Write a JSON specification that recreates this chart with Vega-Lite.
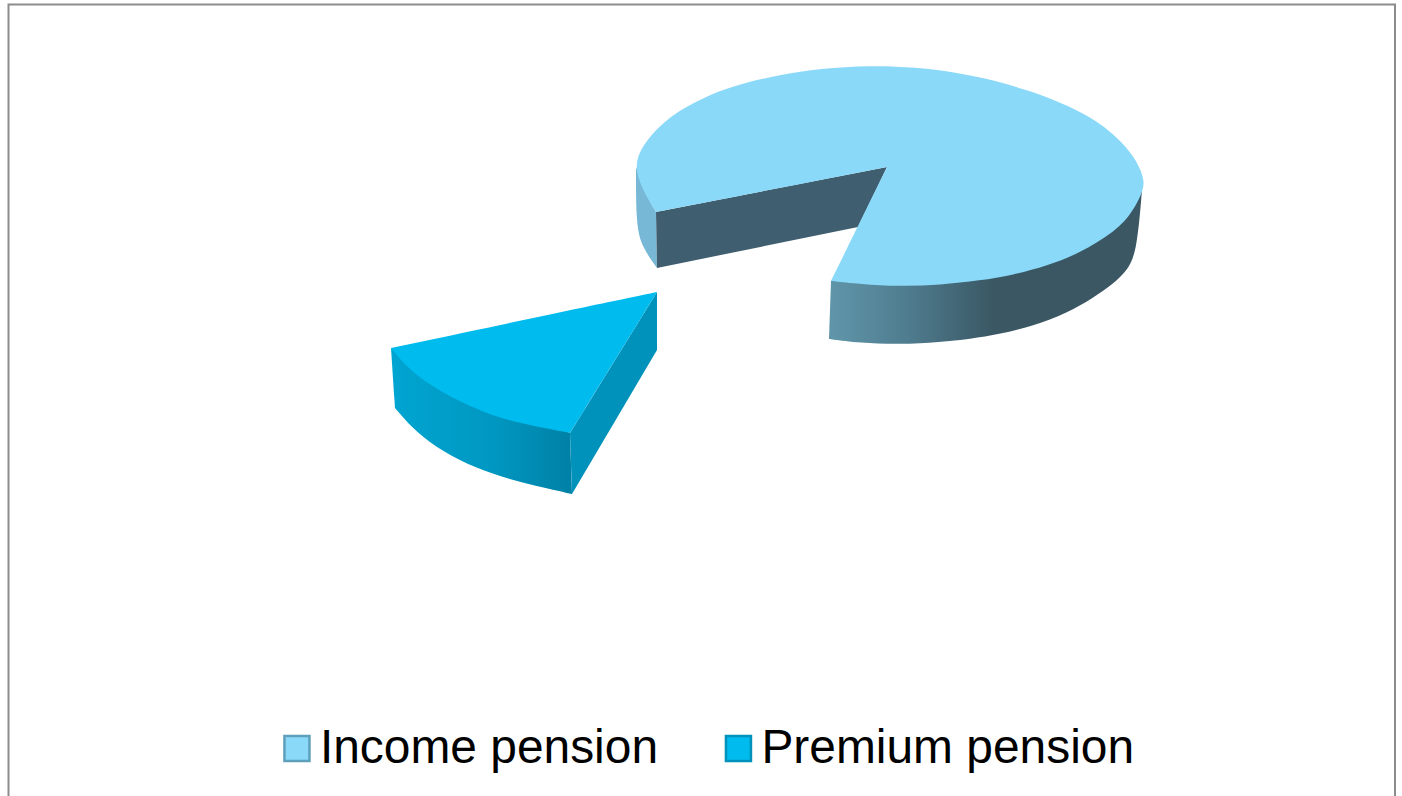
{
  "$schema": "https://vega.github.io/schema/vega-lite/v6.json",
  "width": 1402,
  "height": 796,
  "padding": 0,
  "autosize": {"type": "none"},
  "background": "white",
  "config": {"view": {"stroke": null}},
  "datasets": {
    "faces": [
      {"face": "frame", "i": 0, "x": 8.5, "y": 796},
      {"face": "frame", "i": 1, "x": 8.5, "y": 4.5},
      {"face": "frame", "i": 2, "x": 1395, "y": 4.5},
      {"face": "frame", "i": 3, "x": 1395, "y": 796},

      {"face": "incomeOuterLeft", "i": 0, "x": 636, "y": 167},
      {"face": "incomeOuterLeft", "i": 1, "x": 636, "y": 167},
      {"face": "incomeOuterLeft", "i": 2, "x": 636, "y": 167},
      {"face": "incomeOuterLeft", "i": 3, "x": 636, "y": 225},
      {"face": "incomeOuterLeft", "i": 4, "x": 642, "y": 247},
      {"face": "incomeOuterLeft", "i": 5, "x": 657, "y": 268},
      {"face": "incomeOuterLeft", "i": 6, "x": 657, "y": 268},
      {"face": "incomeOuterLeft", "i": 7, "x": 657, "y": 268},
      {"face": "incomeOuterLeft", "i": 8, "x": 656, "y": 212},
      {"face": "incomeOuterLeft", "i": 9, "x": 656, "y": 212},
      {"face": "incomeOuterLeft", "i": 10, "x": 656, "y": 212},
      {"face": "incomeOuterLeft", "i": 11, "x": 645, "y": 193},
      {"face": "incomeOuterLeft", "i": 12, "x": 636, "y": 167},

      {"face": "incomeCut", "i": 0, "x": 656, "y": 212},
      {"face": "incomeCut", "i": 1, "x": 887, "y": 167},
      {"face": "incomeCut", "i": 2, "x": 858, "y": 227},
      {"face": "incomeCut", "i": 3, "x": 657, "y": 268},
      {"face": "incomeCut", "i": 4, "x": 656, "y": 212},

      {"face": "incomeOuterRight", "i": 0, "x": 831, "y": 281},
      {"face": "incomeOuterRight", "i": 1, "x": 1142, "y": 190},
      {"face": "incomeOuterRight", "i": 2, "x": 1142, "y": 190},
      {"face": "incomeOuterRight", "i": 3, "x": 1142, "y": 190},
      {"face": "incomeOuterRight", "i": 4, "x": 1137, "y": 250},
      {"face": "incomeOuterRight", "i": 5, "x": 1128, "y": 270},
      {"face": "incomeOuterRight", "i": 6, "x": 1113, "y": 284},
      {"face": "incomeOuterRight", "i": 7, "x": 1093, "y": 298},
      {"face": "incomeOuterRight", "i": 8, "x": 1067, "y": 313},
      {"face": "incomeOuterRight", "i": 9, "x": 1033, "y": 326},
      {"face": "incomeOuterRight", "i": 10, "x": 1000, "y": 334},
      {"face": "incomeOuterRight", "i": 11, "x": 970, "y": 339},
      {"face": "incomeOuterRight", "i": 12, "x": 940, "y": 342},
      {"face": "incomeOuterRight", "i": 13, "x": 900, "y": 344.5},
      {"face": "incomeOuterRight", "i": 14, "x": 860, "y": 343},
      {"face": "incomeOuterRight", "i": 15, "x": 829, "y": 339},
      {"face": "incomeOuterRight", "i": 16, "x": 829, "y": 339},
      {"face": "incomeOuterRight", "i": 17, "x": 829, "y": 339},
      {"face": "incomeOuterRight", "i": 18, "x": 831, "y": 281},

      {"face": "premiumOuter", "i": 0, "x": 391, "y": 348},
      {"face": "premiumOuter", "i": 1, "x": 570, "y": 433},
      {"face": "premiumOuter", "i": 2, "x": 570, "y": 433},
      {"face": "premiumOuter", "i": 3, "x": 570, "y": 433},
      {"face": "premiumOuter", "i": 4, "x": 572, "y": 494},
      {"face": "premiumOuter", "i": 5, "x": 572, "y": 494},
      {"face": "premiumOuter", "i": 6, "x": 572, "y": 494},
      {"face": "premiumOuter", "i": 7, "x": 535, "y": 486},
      {"face": "premiumOuter", "i": 8, "x": 502, "y": 477},
      {"face": "premiumOuter", "i": 9, "x": 468, "y": 465},
      {"face": "premiumOuter", "i": 10, "x": 435, "y": 447},
      {"face": "premiumOuter", "i": 11, "x": 412, "y": 428},
      {"face": "premiumOuter", "i": 12, "x": 395, "y": 408},
      {"face": "premiumOuter", "i": 13, "x": 395, "y": 408},
      {"face": "premiumOuter", "i": 14, "x": 395, "y": 408},
      {"face": "premiumOuter", "i": 15, "x": 391, "y": 348},

      {"face": "premiumCut", "i": 0, "x": 570, "y": 433},
      {"face": "premiumCut", "i": 1, "x": 657, "y": 292},
      {"face": "premiumCut", "i": 2, "x": 657, "y": 350},
      {"face": "premiumCut", "i": 3, "x": 572, "y": 494},
      {"face": "premiumCut", "i": 4, "x": 570, "y": 433},

      {"face": "top", "pension": "Income pension", "i": 0, "x": 887, "y": 167},
      {"face": "top", "pension": "Income pension", "i": 1, "x": 831, "y": 281},
      {"face": "top", "pension": "Income pension", "i": 2, "x": 831, "y": 281},
      {"face": "top", "pension": "Income pension", "i": 3, "x": 831, "y": 281},
      {"face": "top", "pension": "Income pension", "i": 4, "x": 860, "y": 284},
      {"face": "top", "pension": "Income pension", "i": 5, "x": 900, "y": 286.5},
      {"face": "top", "pension": "Income pension", "i": 6, "x": 940, "y": 285},
      {"face": "top", "pension": "Income pension", "i": 7, "x": 980, "y": 280.5},
      {"face": "top", "pension": "Income pension", "i": 8, "x": 1013, "y": 275},
      {"face": "top", "pension": "Income pension", "i": 9, "x": 1047, "y": 266},
      {"face": "top", "pension": "Income pension", "i": 10, "x": 1080, "y": 253},
      {"face": "top", "pension": "Income pension", "i": 11, "x": 1113, "y": 233},
      {"face": "top", "pension": "Income pension", "i": 12, "x": 1131, "y": 215},
      {"face": "top", "pension": "Income pension", "i": 13, "x": 1144, "y": 190},
      {"face": "top", "pension": "Income pension", "i": 14, "x": 1144, "y": 177},
      {"face": "top", "pension": "Income pension", "i": 15, "x": 1134, "y": 156},
      {"face": "top", "pension": "Income pension", "i": 16, "x": 1117, "y": 137},
      {"face": "top", "pension": "Income pension", "i": 17, "x": 1093, "y": 118},
      {"face": "top", "pension": "Income pension", "i": 18, "x": 1060, "y": 102},
      {"face": "top", "pension": "Income pension", "i": 19, "x": 1027, "y": 90},
      {"face": "top", "pension": "Income pension", "i": 20, "x": 993, "y": 80},
      {"face": "top", "pension": "Income pension", "i": 21, "x": 960, "y": 73},
      {"face": "top", "pension": "Income pension", "i": 22, "x": 915, "y": 67},
      {"face": "top", "pension": "Income pension", "i": 23, "x": 870, "y": 65.5},
      {"face": "top", "pension": "Income pension", "i": 24, "x": 820, "y": 68.5},
      {"face": "top", "pension": "Income pension", "i": 25, "x": 780, "y": 75},
      {"face": "top", "pension": "Income pension", "i": 26, "x": 747, "y": 82},
      {"face": "top", "pension": "Income pension", "i": 27, "x": 722, "y": 90},
      {"face": "top", "pension": "Income pension", "i": 28, "x": 699, "y": 100},
      {"face": "top", "pension": "Income pension", "i": 29, "x": 675, "y": 113},
      {"face": "top", "pension": "Income pension", "i": 30, "x": 655, "y": 130},
      {"face": "top", "pension": "Income pension", "i": 31, "x": 641, "y": 148},
      {"face": "top", "pension": "Income pension", "i": 32, "x": 634, "y": 167},
      {"face": "top", "pension": "Income pension", "i": 33, "x": 644, "y": 193},
      {"face": "top", "pension": "Income pension", "i": 34, "x": 656, "y": 212},
      {"face": "top", "pension": "Income pension", "i": 35, "x": 656, "y": 212},
      {"face": "top", "pension": "Income pension", "i": 36, "x": 656, "y": 212},
      {"face": "top", "pension": "Income pension", "i": 37, "x": 887, "y": 167},

      {"face": "top", "pension": "Premium pension", "i": 0, "x": 391, "y": 348},
      {"face": "top", "pension": "Premium pension", "i": 1, "x": 657, "y": 292},
      {"face": "top", "pension": "Premium pension", "i": 2, "x": 657, "y": 292},
      {"face": "top", "pension": "Premium pension", "i": 3, "x": 657, "y": 292},
      {"face": "top", "pension": "Premium pension", "i": 4, "x": 570, "y": 433},
      {"face": "top", "pension": "Premium pension", "i": 5, "x": 570, "y": 433},
      {"face": "top", "pension": "Premium pension", "i": 6, "x": 570, "y": 433},
      {"face": "top", "pension": "Premium pension", "i": 7, "x": 518, "y": 423},
      {"face": "top", "pension": "Premium pension", "i": 8, "x": 485, "y": 413},
      {"face": "top", "pension": "Premium pension", "i": 9, "x": 452, "y": 398},
      {"face": "top", "pension": "Premium pension", "i": 10, "x": 425, "y": 382},
      {"face": "top", "pension": "Premium pension", "i": 11, "x": 405, "y": 365},
      {"face": "top", "pension": "Premium pension", "i": 12, "x": 391, "y": 348}
    ]
  },
  "data": {"name": "faces"},
  "encoding": {
    "x": {"field": "x", "type": "quantitative", "scale": {"domain": [0, 1402], "nice": false, "zero": false}, "axis": null},
    "y": {"field": "y", "type": "quantitative", "scale": {"domain": [796, 0], "nice": false, "zero": false}, "axis": null},
    "order": {"field": "i", "type": "quantitative"}
  },
  "layer": [
    {
      "transform": [{"filter": "datum.face === 'frame'"}],
      "mark": {"type": "line", "stroke": "#8C8C8C", "strokeWidth": 2}
    },
    {
      "transform": [{"filter": "datum.face === 'incomeOuterLeft'"}],
      "mark": {"type": "line", "interpolate": "basis", "fill": "#76B8D5", "strokeWidth": 0}
    },
    {
      "transform": [{"filter": "datum.face === 'incomeCut'"}],
      "mark": {"type": "line", "fill": "#3F5E6F", "strokeWidth": 0}
    },
    {
      "transform": [{"filter": "datum.face === 'incomeOuterRight'"}],
      "mark": {
        "type": "line",
        "interpolate": "basis",
        "strokeWidth": 0,
        "fill": {
          "gradient": "linear", "x1": 0, "y1": 0, "x2": 1, "y2": 0,
          "stops": [
            {"offset": 0, "color": "#6096AA"},
            {"offset": 0.25, "color": "#4F7C8F"},
            {"offset": 0.53, "color": "#3A5763"},
            {"offset": 1, "color": "#3A5763"}
          ]
        }
      }
    },
    {
      "transform": [{"filter": "datum.face === 'premiumOuter'"}],
      "mark": {
        "type": "line",
        "interpolate": "basis",
        "strokeWidth": 0,
        "fill": {
          "gradient": "linear", "x1": 0, "y1": 0, "x2": 1, "y2": 0,
          "stops": [
            {"offset": 0, "color": "#00A5D1"},
            {"offset": 0.55, "color": "#0098C2"},
            {"offset": 1, "color": "#0080A6"}
          ]
        }
      }
    },
    {
      "transform": [{"filter": "datum.face === 'premiumCut'"}],
      "mark": {"type": "line", "fill": "#0092BA", "strokeWidth": 0}
    },
    {
      "transform": [{"filter": "datum.face === 'top'"}],
      "mark": {"type": "line", "interpolate": "basis", "strokeWidth": 0},
      "encoding": {
        "fill": {
          "field": "pension",
          "type": "nominal",
          "scale": {"domain": ["Income pension", "Premium pension"], "range": ["#8BD9F8", "#00BBEE"]},
          "legend": {
            "title": null,
            "orient": "none",
            "legendX": 273,
            "legendY": 724.5,
            "direction": "horizontal",
            "columns": 2,
            "symbolType": "square",
            "symbolSize": 625,
            "symbolStrokeWidth": 2.5,
            "symbolOpacity": 1,
            "labelFont": "Liberation Sans",
            "labelFontSize": 47.9,
            "labelColor": "#000000",
            "labelOffset": -1,
            "labelLimit": 500,
            "columnPadding": 55.5
          }
        },
        "stroke": {
          "field": "pension",
          "type": "nominal",
          "scale": {"domain": ["Income pension", "Premium pension"], "range": ["#5E9FBB", "#0092BA"]},
          "legend": {
            "title": null,
            "orient": "none",
            "legendX": 273,
            "legendY": 724.5,
            "direction": "horizontal",
            "columns": 2,
            "symbolType": "square",
            "symbolSize": 625,
            "symbolStrokeWidth": 2.5,
            "symbolOpacity": 1,
            "labelFont": "Liberation Sans",
            "labelFontSize": 47.9,
            "labelColor": "#000000",
            "labelOffset": -1,
            "labelLimit": 500,
            "columnPadding": 55.5
          }
        }
      }
    }
  ]
}
